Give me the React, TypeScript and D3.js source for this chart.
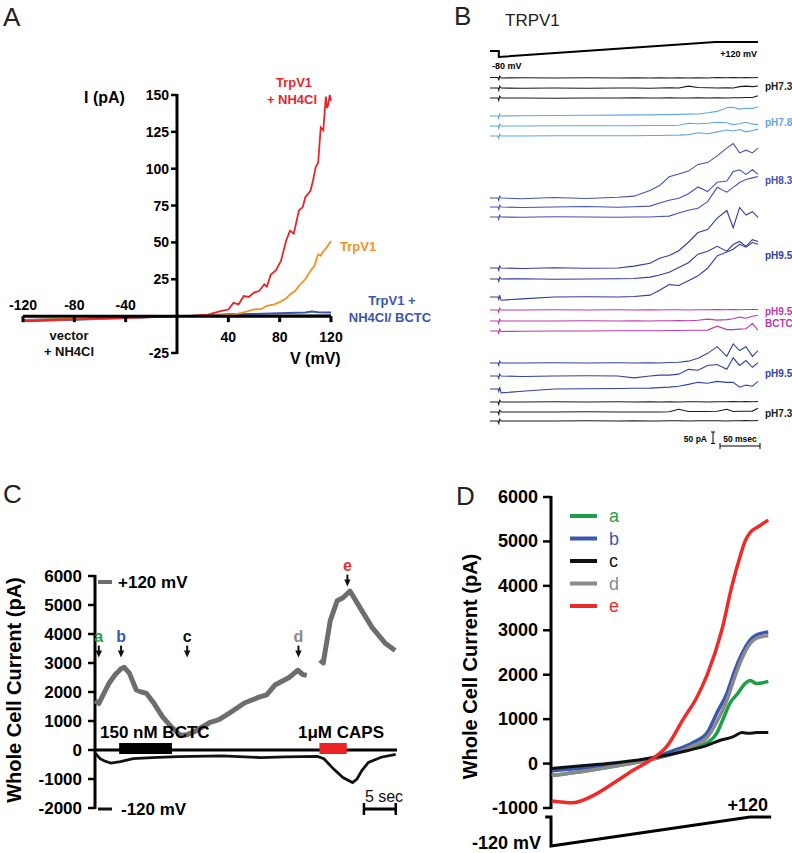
import React from 'react';
import * as d3 from 'd3';

const FONT = '"Liberation Sans", Arial, Helvetica, sans-serif';

// ---------- panel A: I-V relations (mV, pA) ----------
const aTicksY = [-25, 25, 50, 75, 100, 125, 150];
const aTicksXNeg = [-120, -80, -40];
const aTicksXPos = [40, 80, 120];
const aVector = [[-120, -2.5], [-90, -2], [-60, -1.5], [-30, -0.8], [0, 0], [60, 0.3], [120, 0.5]];
const aTrpV1NH4Cl = [[-120, -3], [-100, -2.6], [-80, -2.2], [-60, -1.6], [-40, -1.2], [-20, -0.6], [0, 0], [12, 0.3], [24, 1], [34, 3.4], [40, 4.5], [44, 9], [48, 8], [52, 13.6], [56, 13], [60, 16], [64, 17], [68, 21.6], [70, 20], [73, 28], [77, 31], [81, 37.5], [85, 51], [88, 58], [91, 56], [95, 71.6], [98, 74], [100, 80.7], [104, 85], [106, 92], [108, 101], [110, 104], [112, 128], [114, 126], [116, 149], [117, 141], [118, 144], [119, 150], [120, 146]];
const aTrpV1 = [[-120, -2.8], [-60, -1.6], [0, 0], [20, 0.2], [30, 0.5], [44, 1], [52, 2.5], [60, 4.5], [66, 5], [70, 7], [76, 8], [81, 10], [85, 12], [88.5, 15], [92, 17], [96, 21.6], [100, 25], [104, 30.7], [107, 34], [110, 42], [112, 41], [114, 44], [117, 47], [120, 51]];
const aTrpV1BCTC = [[-120, -3.5], [-80, -2.5], [-40, -1.2], [0, 0], [20, 0.5], [40, 1.2], [60, 1.5], [80, 2], [100, 2.5], [105, 3.2], [110, 2.6], [120, 2.5]];

// ---------- panel B: ramp traces (ms, pA above baseline) ----------
const bTime = [0, 10, 11, 12, 14, 40, 80, 120, 160, 180, 200, 212, 224, 236, 248, 260, 272, 284, 296, 304, 312, 320, 328, 335];
const bCommandTime = [0, 11, 11, 282, 335];
const bCommandMv = [0, 0, -80, 120, 120];
const ph73a1 = [2, 2, -10, 8, 0, 1, 0, 1, 0, 1, 0, 1, 0, 1, 0, 1, 0, 2, 1, 2, 1, 2, 1, 2];
const ph73a2 = [0, 0, -10, 8, 0, -1, 0, -1, 0, 0, -1, 0, 1, 0, 8, 2, 1, 0, 1, 0, 6, 8, 6, 9];
const ph73a3 = [0, 0, -10, 8, 0, 0, -1, 0, 0, 1, 0, 0, 1, 0, 0, 1, 0, 1, 0, 1, 1, 2, 2, 10];
const ph78a = [0, 0, -10, 8, 0, 1, 2, 3, 4, 5, 5, 6, 6, 7, 8, 9, 14, 20, 36, 38, 30, 34, 32, 40];
const ph78b = [0, 0, -10, 8, 0, 0, 1, 1, 1, 1, 2, 2, 2, 3, 12, 10, 12, 16, 14, 6, 10, 16, 8, 6];
const ph78c = [0, 0, -10, 8, 0, 0, 1, 1, 1, 1, 2, 2, 3, 4, 6, 14, 10, 18, 26, 22, 28, 18, 24, 30];
const ph83a = [0, 0, -10, 8, 0, -3, 2, -2, 3, 8, 33, 54, 92, 104, 117, 146, 154, 183, 217, 237, 196, 208, 196, 217];
const ph83b = [0, 0, -10, 8, 0, -2, 0, 2, -1, 1, 4, 17, 29, 38, 58, 87, 67, 108, 113, 154, 162, 142, 162, 142];
const ph83c = [0, 0, -10, 8, 0, -1, 1, 0, -1, 0, 0, 2, 4, 17, 29, 38, 67, 129, 108, 129, 150, 163, 170, 176];
const ph95a = [0, 0, -10, 8, 0, -2, 1, -1, 0, 8, 21, 42, 54, 75, 112, 154, 167, 217, 250, 175, 263, 230, 245, 220];
const ph95b = [0, 0, -10, 8, 0, 1, -1, 0, 1, 2, 8, 17, 29, 50, 71, 108, 121, 142, 121, 150, 163, 142, 171, 163];
const ph95c = [0, 0, -10, 8, -14, -8, 0, 1, 0, 2, 8, 29, 54, 50, 71, 92, 125, 179, 196, 208, 229, 217, 237, 229];
const bctcA = [0, 0, -10, 8, 0, 0, 1, 0, 1, 0, 1, 0, 1, 1, 0, 1, 1, 2, 1, 2, 1, 2, 2, 2];
const bctcB = [0, 0, -10, 8, 0, 0, 0, 1, 0, 1, 0, 1, 1, 2, 1, 3, 8, 4, 6, 10, 17, 12, 21, 25];
const bctcC = [0, 0, -10, 8, -2, -1, 0, 0, 1, 1, 1, 1, 2, 2, 3, 3, 4, 21, 6, 6, 8, 10, 33, 4];
const washA = [0, 0, -10, 8, 0, 0, 1, 0, 1, 0, 1, 0, 2, 3, 8, 21, 42, 71, 29, 83, 54, 71, 29, 54];
const washB = [0, 0, -10, 8, 0, -2, 0, 1, 0, -8, 0, 4, 4, 8, 29, 25, 46, 50, 29, 79, 46, 67, 38, 58];
const washC = [0, 0, -10, 8, -17, -10, 0, 1, 2, 3, 4, 6, 8, 12, 20, 29, 25, 33, 29, 29, 8, 17, 12, 33];
const ph73b1 = [0, 0, -10, 8, 0, 0, 1, 0, 1, 0, 1, 0, 1, 0, 1, 1, 0, 1, 1, 2, 1, 2, 1, 2];
const ph73b2 = [0, 0, -10, 8, 0, 0, 0, 1, 0, 0, 0, 0, 1, 12, 2, 2, 2, 3, 12, 2, 3, 3, 4, 16];
const ph73b3 = [0, 0, -10, 8, 0, 0, 0, 1, 0, 1, 0, 0, 1, 1, 0, 1, 1, 1, 0, 1, 1, 2, 1, 2];
const bGroupLabels = ['pH7.3', 'pH7.8', 'pH8.3', 'pH9.5', 'pH9.5|BCTC', 'pH9.5', 'pH7.3'];
const bGroups = [
  [ph73a1, ph73a2, ph73a3],
  [ph78a, ph78b, ph78c],
  [ph83a, ph83b, ph83c],
  [ph95a, ph95b, ph95c],
  [bctcA, bctcB, bctcC],
  [washA, washB, washC],
  [ph73b1, ph73b2, ph73b3],
];

// ---------- panel C: time course (s, pA) ----------
const cTicks = [-2000, -1000, 0, 1000, 2000, 3000, 4000, 5000, 6000];
const cPlus120Early = [[0, 1700], [0.6, 1600], [1.4, 1950], [2.2, 2300], [3.2, 2600], [4.1, 2800], [4.6, 2850], [5.4, 2650], [6.5, 2070], [7.3, 2000], [8.1, 1950], [9.3, 1600], [10.6, 1150], [12, 800], [13.3, 530], [14.4, 520], [15.6, 630], [18, 940], [19.5, 1050], [21.2, 1280], [23.5, 1620], [25.9, 1830], [27, 1900], [28.3, 2240], [30.6, 2510], [31.9, 2750], [32.7, 2600], [33.3, 2580]];
const cPlus120Late = [[35.4, 3100], [35.9, 3000], [37, 4460], [38.1, 5150], [39, 5250], [40.1, 5480], [41.7, 4900], [43.6, 4220], [45.7, 3670], [47.2, 3430]];
const cMinus120 = [[0, -100], [0.8, -300], [1.5, -380], [2.5, -450], [4, -400], [6, -300], [9, -260], [13, -230], [20, -200], [26, -260], [30, -240], [35, -220], [36, -300], [37.5, -650], [39, -950], [40.5, -1120], [41.2, -1000], [42, -700], [43, -430], [45, -250], [47.3, -150]];
const cBCTC = [3.8, 12.1];
const cCAPS = [35.3, 39.6];
const cMarkNames = ['a', 'b', 'c', 'd', 'e'];
const cMarkTimes = [0.6, 4.1, 14.5, 32, 39.7];
const cMarkTops = [3600, 3600, 3600, 3600, 6050];

// ---------- panel D: I-V ramps at a..e (ms into sweep, pA) ----------
const dTicks = [-1000, 0, 1000, 2000, 3000, 4000, 5000, 6000];
const dA = [[1, -270], [50, -160], [95, -40], [140, 100], [168, 220], [195, 350], [215, 470], [228, 680], [236, 970], [246, 1350], [257, 1580], [267, 1800], [274, 1870], [283, 1800], [299, 1850]];
const dB = [[1, -160], [50, -90], [95, 0], [140, 130], [168, 290], [195, 470], [215, 700], [228, 1130], [242, 1580], [253, 2100], [263, 2480], [274, 2780], [283, 2900], [299, 2960]];
const dC = [[1, -110], [50, -40], [95, 30], [140, 130], [187, 290], [215, 410], [232, 520], [250, 600], [263, 700], [272, 680], [283, 700], [299, 700]];
const dD = [[1, -270], [50, -160], [95, -40], [140, 100], [168, 220], [195, 400], [215, 590], [228, 930], [242, 1420], [253, 1950], [263, 2370], [274, 2700], [283, 2820], [299, 2880]];
const dE = [[1, -840], [30, -880], [58, -720], [85, -450], [113, -150], [136, 70], [160, 400], [182, 1000], [201, 1500], [215, 2000], [235, 3000], [249, 4000], [260, 4650], [267, 5000], [274, 5200], [285, 5330], [299, 5480]];
const dRampTime = [-8, 0, 0, 274, 303];
const dRampMv = [120, 120, -120, 120, 120];

const markColors: Record<string, string> = { a: '#1f9e48', b: '#3a57b3', c: '#111', d: '#8a8a8a', e: '#ee2b2b' };

function Arrow({ x, y }: { x: number; y: number }) {
  return (
    <g>
      <line x1={x} x2={x} y1={y} y2={y + 7} stroke="#111" strokeWidth={2} />
      <polygon points={`${x - 3.2},${y + 5} ${x + 3.2},${y + 5} ${x},${y + 12}`} fill="#111" />
    </g>
  );
}

export default function App() {
  // ---- A
  const ax = d3.scaleLinear().domain([-120, 120]).range([23, 331]);
  const ay = d3.scaleLinear().domain([-25, 150]).range([353, 95]);
  const aLine = d3.line<number[]>().x(d => ax(d[0])).y(d => ay(d[1]));

  // ---- B
  const bx = d3.scaleLinear().domain([0, 335]).range([490, 758]);
  const bpA = d3.scaleLinear().domain([0, 50]).range([0, -11.5]);
  const bmV = d3.scaleLinear().domain([-80, 120]).range([57, 42]);
  const bBase = [[78, 88, 98], [116, 126, 136], [198, 207, 217], [268, 279, 297], [310, 321, 331], [363, 376, 389], [402, 412, 421]];
  const bColors = ['#1a1a1a', '#62a6e4', '#4650b2', '#2f3b9f', '#bb3aa9', '#3341a6', '#1a1a1a'];
  const bLabelY = [90, 126, 184, 259, 315, 377, 417];
  const cmdLine = d3.line<number>().x((_, i) => bx(bCommandTime[i])).y(d => bmV(d));

  // ---- C
  const cx = d3.scaleLinear().domain([0, 47.5]).range([95, 397]);
  const cy = d3.scaleLinear().domain([-2000, 6000]).range([808, 576]);
  const cLine = d3.line<number[]>().x(d => cx(d[0])).y(d => cy(d[1]));

  // ---- D
  const dx = d3.scaleLinear().domain([0, 300]).range([551, 769]);
  const dy = d3.scaleLinear().domain([-1000, 6000]).range([808, 497]);
  const dmV = d3.scaleLinear().domain([-120, 120]).range([846, 817]);
  const dLine = d3.line<number[]>().x(d => dx(d[0])).y(d => dy(d[1])).curve(d3.curveMonotoneX);
  const rampLine = d3.line<number>().x((_, i) => dx(dRampTime[i])).y(d => dmV(d));
  const dSeries = [
    { name: 'a', data: dA }, { name: 'b', data: dB }, { name: 'd', data: dD }, { name: 'c', data: dC }, { name: 'e', data: dE },
  ];
  const legendOrder = ['a', 'b', 'c', 'd', 'e'];

  const bold = { fontFamily: FONT, fontWeight: 700 } as const;

  return (
    <svg width={792} height={853} style={{ position: 'absolute', left: 0, top: 0, background: '#fff' }}>
      {/* ===== Panel A ===== */}
      <text x={3} y={26} fontFamily={FONT} fontSize={26} fill="#222">A</text>
      <path d={aLine(aVector) || ''} fill="none" stroke="#111" strokeWidth={1.8} />
      <path d={aLine(aTrpV1BCTC) || ''} fill="none" stroke="#3a56b0" strokeWidth={2} />
      <path d={aLine(aTrpV1) || ''} fill="none" stroke="#f39223" strokeWidth={1.8} />
      <path d={aLine(aTrpV1NH4Cl) || ''} fill="none" stroke="#e8262a" strokeWidth={1.8} />
      <line x1={ax(0)} x2={ax(0)} y1={ay(150) - 1} y2={ay(-25) + 1} stroke="#000" strokeWidth={3} />
      <line x1={ax(-120)} x2={ax(120)} y1={ay(0)} y2={ay(0)} stroke="#000" strokeWidth={3} />
      {aTicksY.map(t => (
        <g key={t}>
          <line x1={ax(0) - 6} x2={ax(0)} y1={ay(t)} y2={ay(t)} stroke="#000" strokeWidth={2.5} />
          <text x={ax(0) - 8} y={ay(t) + 5} textAnchor="end" fontSize={14} {...bold}>{t}</text>
        </g>
      ))}
      {[...aTicksXNeg, ...aTicksXPos].map(t => (
        <line key={t} x1={ax(t)} x2={ax(t)} y1={ay(0)} y2={ay(0) + 6} stroke="#000" strokeWidth={3} />
      ))}
      {aTicksXNeg.map(t => (
        <text key={t} x={ax(t)} y={ay(0) - 6} textAnchor="middle" fontSize={14} {...bold}>{t}</text>
      ))}
      {aTicksXPos.map(t => (
        <text key={t} x={ax(t)} y={ay(0) + 26} textAnchor="middle" fontSize={14} {...bold}>{t}</text>
      ))}
      <text x={84} y={103} fontSize={16} {...bold}>I (pA)</text>
      <text x={290} y={364} fontSize={16} {...bold}>V (mV)</text>
      <text x={294} y={87} textAnchor="middle" fontSize={13} fill="#e8262a" {...bold}>TrpV1</text>
      <text x={292} y={104} textAnchor="middle" fontSize={13} fill="#e8262a" {...bold}>+ NH4Cl</text>
      <text x={340} y={251} fontSize={13} fill="#f39223" {...bold}>TrpV1</text>
      <text x={392} y={305} textAnchor="middle" fontSize={13} fill="#3a56b0" {...bold}>TrpV1 +</text>
      <text x={390} y={322} textAnchor="middle" fontSize={13} fill="#3a56b0" {...bold}>NH4Cl/ BCTC</text>
      <text x={69} y={340} textAnchor="middle" fontSize={13} fill="#111" {...bold}>vector</text>
      <text x={69} y={356} textAnchor="middle" fontSize={13} fill="#111" {...bold}>+ NH4Cl</text>

      {/* ===== Panel B ===== */}
      <text x={454} y={25} fontFamily={FONT} fontSize={26} fill="#222">B</text>
      <text x={505} y={26} fontFamily={FONT} fontSize={17} fill="#222">TRPV1</text>
      <path d={cmdLine(bCommandMv) || ''} fill="none" stroke="#000" strokeWidth={2} />
      <text x={492} y={69} fontSize={9} {...bold}>-80 mV</text>
      <text x={757} y={57} textAnchor="end" fontSize={9} {...bold}>+120 mV</text>
      {bGroups.map((grp, gi) => (
        <g key={gi}>
          {grp.map((vals, ti) => {
            const line = d3.line<number>().x((_, i) => bx(bTime[i])).y(d => bBase[gi][ti] + bpA(d));
            return <path key={ti} d={line(vals) || ''} fill="none" stroke={bColors[gi]} strokeWidth={1.1} />;
          })}
          {bGroupLabels[gi].split('|').map((s, k) => (
            <text key={k} x={765} y={bLabelY[gi] + k * 12} fontSize={10} fill={bColors[gi]} {...bold}>{s}</text>
          ))}
        </g>
      ))}
      <text x={707} y={442} textAnchor="end" fontSize={8.5} {...bold}>50 pA</text>
      <line x1={713} x2={713} y1={432} y2={432 - bpA(50)} stroke="#000" strokeWidth={1} />
      <line x1={711} x2={715} y1={432} y2={432} stroke="#000" strokeWidth={1} />
      <line x1={711} x2={715} y1={432 - bpA(50)} y2={432 - bpA(50)} stroke="#000" strokeWidth={1} />
      <text x={740} y={442} textAnchor="middle" fontSize={8.5} {...bold}>50 msec</text>
      <line x1={720} x2={720 + (bx(50) - bx(0))} y1={446} y2={446} stroke="#000" strokeWidth={1} />
      <line x1={720} x2={720} y1={443} y2={449} stroke="#000" strokeWidth={1} />
      <line x1={720 + bx(50) - bx(0)} x2={720 + bx(50) - bx(0)} y1={443} y2={449} stroke="#000" strokeWidth={1} />

      {/* ===== Panel C ===== */}
      <text x={3} y={503} fontFamily={FONT} fontSize={26} fill="#222">C</text>
      <text transform={`translate(21,${(cy(6000) + cy(-2000)) / 2 - 2}) rotate(-90)`} textAnchor="middle" fontSize={20} {...bold}>Whole Cell Current (pA)</text>
      <line x1={cx(0)} x2={cx(0)} y1={cy(6000) - 1} y2={cy(-2000) + 1} stroke="#000" strokeWidth={3} />
      {cTicks.map(t => (
        <g key={t}>
          <line x1={cx(0) - 7} x2={cx(0)} y1={cy(t)} y2={cy(t)} stroke="#000" strokeWidth={2.5} />
          <text x={cx(0) - 13} y={cy(t) + 6} textAnchor="end" fontSize={17} {...bold}>{t}</text>
        </g>
      ))}
      <path d={cLine(cMinus120) || ''} fill="none" stroke="#111" strokeWidth={2.8} />
      <path d={cLine(cPlus120Early) || ''} fill="none" stroke="#6d6d6d" strokeWidth={5} strokeLinejoin="round" />
      <path d={cLine(cPlus120Late) || ''} fill="none" stroke="#6d6d6d" strokeWidth={5} strokeLinejoin="round" />
      <line x1={cx(0)} x2={cx(47.5)} y1={cy(0)} y2={cy(0)} stroke="#000" strokeWidth={3} />
      <rect x={cx(cBCTC[0])} y={cy(0) - 7} width={cx(cBCTC[1]) - cx(cBCTC[0])} height={11} fill="#000" />
      <rect x={cx(cCAPS[0])} y={cy(0) - 7} width={cx(cCAPS[1]) - cx(cCAPS[0])} height={11} fill="#ee2323" />
      <text x={100} y={738} fontSize={17} {...bold}>150 nM BCTC</text>
      <text x={298} y={738} fontSize={17} {...bold}>1μM CAPS</text>
      <line x1={98} x2={112} y1={582} y2={582} stroke="#6d6d6d" strokeWidth={4} />
      <text x={118} y={588} fontSize={17} {...bold}>+120 mV</text>
      <line x1={98} x2={112} y1={809} y2={809} stroke="#111" strokeWidth={3} />
      <text x={121} y={815} fontSize={17} {...bold}>-120 mV</text>
      {cMarkNames.map((m, i) => (
        <g key={m}>
          <text x={cx(cMarkTimes[i])} y={cy(cMarkTops[i]) - 4} textAnchor="middle" fontSize={16} fill={markColors[m]} {...bold}>{m}</text>
          <Arrow x={cx(cMarkTimes[i])} y={cy(cMarkTops[i])} />
        </g>
      ))}
      <text x={384} y={802} textAnchor="middle" fontFamily={FONT} fontSize={16} fill="#111">5 sec</text>
      <line x1={cx(42.3)} x2={cx(47.3)} y1={809} y2={809} stroke="#000" strokeWidth={3} />
      <line x1={cx(42.3)} x2={cx(42.3)} y1={803} y2={815} stroke="#000" strokeWidth={2.5} />
      <line x1={cx(47.3)} x2={cx(47.3)} y1={803} y2={815} stroke="#000" strokeWidth={2.5} />

      {/* ===== Panel D ===== */}
      <text x={456} y={505} fontFamily={FONT} fontSize={26} fill="#222">D</text>
      <text transform={`translate(477,${(dy(6000) + dy(-1000)) / 2 + 14}) rotate(-90)`} textAnchor="middle" fontSize={20} {...bold}>Whole Cell Current (pA)</text>
      <line x1={dx(0)} x2={dx(0)} y1={dy(6000) - 1} y2={dy(-1000) + 1} stroke="#000" strokeWidth={3} />
      {dTicks.map(t => (
        <g key={t}>
          <line x1={dx(0) - 8} x2={dx(0)} y1={dy(t)} y2={dy(t)} stroke="#000" strokeWidth={2.5} />
          <text x={dx(0) - 13} y={dy(t) + 6} textAnchor="end" fontSize={18} {...bold}>{t}</text>
        </g>
      ))}
      {dSeries.map(s => (
        <path key={s.name} d={dLine(s.data) || ''} fill="none" stroke={markColors[s.name]} strokeWidth={s.name === 'c' ? 3 : 3.5} strokeLinejoin="round" />
      ))}
      {legendOrder.map((m, i) => (
        <g key={m}>
          <line x1={570} x2={597} y1={516 + i * 22.5} y2={516 + i * 22.5} stroke={markColors[m]} strokeWidth={4} />
          <text x={609} y={522 + i * 22.5} fontFamily={FONT} fontSize={18} fill={markColors[m]}>{m}</text>
        </g>
      ))}
      <path d={rampLine(dRampMv) || ''} fill="none" stroke="#000" strokeWidth={3} />
      <text x={768} y={811} textAnchor="end" fontSize={18} {...bold}>+120</text>
      <text x={541} y={849} textAnchor="end" fontSize={18} {...bold}>-120 mV</text>
    </svg>
  );
}
